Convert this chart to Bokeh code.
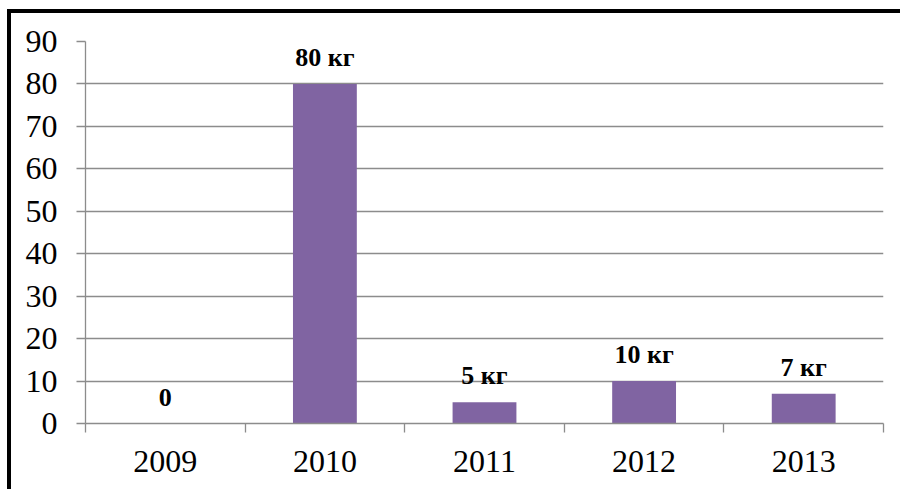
from bokeh.plotting import figure
from bokeh.models import ColumnDataSource, FixedTicker, LabelSet, Range1d
from bokeh.embed import file_html
from bokeh.resources import INLINE

years = ["2009", "2010", "2011", "2012", "2013"]
values = [0, 80, 5, 10, 7]
labels = ["0", "80 кг", "5 кг", "10 кг", "7 кг"]
y_ticks = [0, 10, 20, 30, 40, 50, 60, 70, 80, 90]

xs = [i + 0.5 for i in range(len(years))]
src = ColumnDataSource(dict(x=xs, top=values, label=labels))

p = figure(width=893, height=480, output_backend="svg", toolbar_location=None,
           x_range=Range1d(0, len(years)), y_range=Range1d(0, 90),
           min_border_left=78, min_border_right=17, min_border_top=32, min_border_bottom=66)
p.outline_line_color = None
p.border_fill_color = None
p.background_fill_color = "white"
# black edge along the top and left of the chart area (cropped original)
p.styles = {"position": "absolute", "left": "7px", "top": "9px",
            "box-shadow": "inset 4px 4px 0 0 black"}

p.vbar(x="x", top="top", width=0.4, bottom=0, source=src, fill_color="#8064A2", line_color=None)

grid_color = "#8c8c8c"
p.xgrid.visible = False
p.ygrid.ticker = FixedTicker(ticks=y_ticks)
p.ygrid.grid_line_color = grid_color
p.ygrid.grid_line_width = 1.3

yax = p.yaxis[0]
yax.ticker = FixedTicker(ticks=y_ticks)
yax.axis_line_color = grid_color
yax.axis_line_width = 1.3
yax.major_tick_line_color = grid_color
yax.major_tick_line_width = 1.3
yax.major_tick_out = 9
yax.major_tick_in = 0
yax.minor_tick_line_color = None
yax.major_label_standoff = 19
yax.major_label_text_font = "Liberation Serif"
yax.major_label_text_font_size = "32px"
yax.major_label_text_color = "black"

xax = p.xaxis[0]
xax.ticker = FixedTicker(ticks=xs, minor_ticks=list(range(len(years) + 1)))
xax.major_label_overrides = {x: y for x, y in zip(xs, years)}
xax.axis_line_color = grid_color
xax.axis_line_width = 1.3
xax.major_tick_line_color = None
xax.minor_tick_line_color = grid_color
xax.minor_tick_line_width = 1.3
xax.minor_tick_out = 9
xax.minor_tick_in = 0
xax.major_label_standoff = 18
xax.major_label_text_font = "Liberation Serif"
xax.major_label_text_font_size = "32px"
xax.major_label_text_color = "black"

p.add_layout(LabelSet(x="x", y="top", text="label", source=src, y_offset=18,
                      text_align="center", text_baseline="alphabetic",
                      text_font="Liberation Serif", text_font_style="bold",
                      text_font_size="26px", text_color="black"))

open("out.html", "w").write(file_html(p, INLINE))
